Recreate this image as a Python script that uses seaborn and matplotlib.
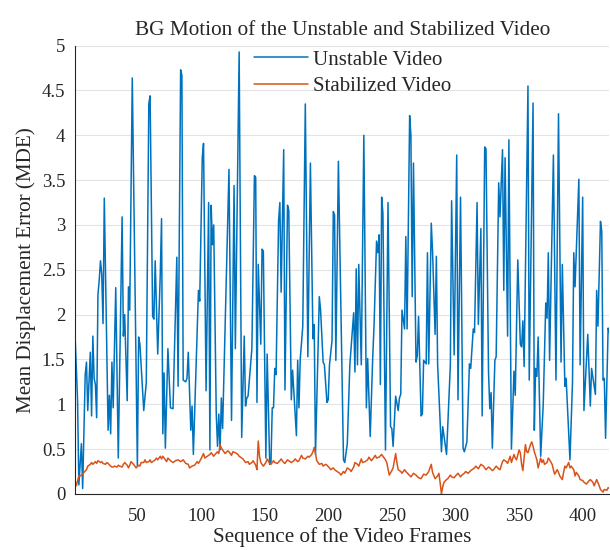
import numpy as np
import matplotlib
matplotlib.use('Agg')
import matplotlib.pyplot as plt
import seaborn as sns
from matplotlib.ticker import FormatStrFormatter

# frame indices and MDE values (peaks / troughs of the zig-zag)
unstable_frames = [1, 3, 4, 6, 7, 9, 10, 11, 13, 14,
                   15, 16, 17, 18, 19, 20, 21, 22, 23, 24,
                   27, 28, 29, 30, 31, 33, 35, 38, 39, 40,
                   42, 43, 44, 46, 50, 51, 52, 55, 57, 59,
                   60, 62, 63, 64, 66, 68, 69, 70, 71, 72,
                   74, 76, 78, 81, 82, 84, 85, 86, 88, 89,
                   90, 92, 93, 94, 98, 99, 101, 102, 104, 106,
                   107, 108, 109, 110, 112, 113, 114, 115, 116, 117,
                   120, 122, 124, 126, 127, 130, 132, 134, 135, 136,
                   137, 140, 142, 143, 144, 145, 147, 148, 149, 151,
                   152, 154, 155, 156, 157, 158, 159, 161, 162, 163,
                   165, 166, 168, 169, 171, 172, 175, 176, 177, 178,
                   180, 182, 184, 186, 188, 189, 190, 193, 194, 196,
                   197, 199, 200, 201, 203, 204, 205, 206, 208, 212,
                   213, 215, 217, 220, 221, 222, 223, 224, 226, 228,
                   230, 231, 233, 235, 236, 238, 239, 240, 241, 242,
                   243, 245, 247, 249, 250, 251, 253, 255, 256, 257,
                   258, 260, 261, 262, 264, 265, 266, 267, 269, 270,
                   271, 272, 273, 274, 275, 277, 278, 279, 281, 282,
                   284, 285, 286, 289, 290, 293, 296, 297, 299, 301,
                   302, 304, 306, 307, 309, 311, 312, 314, 315, 317,
                   318, 320, 321, 323, 324, 326, 327, 328, 329, 331,
                   332, 334, 335, 337, 338, 339, 341, 342, 344, 346,
                   347, 349, 351, 352, 353, 354, 357, 358, 361, 362,
                   363, 364, 365, 367, 369, 371, 372, 373, 374, 377,
                   379, 381, 383, 384, 386, 387, 390, 392, 393, 394,
                   397, 398, 400, 401, 404, 406, 407, 410, 411, 412,
                   414, 415, 416, 417, 418, 420, 421]
unstable_mde = [1.78, 1.04, 0.10, 0.56, 0.06, 1.33, 1.47, 0.93, 1.58, 0.87,
                1.76, 1.29, 1.22, 0.85, 2.22, 2.38, 2.60, 2.45, 1.90, 3.30,
                0.71, 1.10, 0.67, 1.47, 0.96, 2.30, 0.40, 3.09, 1.76, 2.00,
                1.04, 2.31, 2.05, 4.64, 0.31, 1.75, 1.67, 0.93, 1.24, 4.35,
                4.44, 1.98, 1.95, 2.60, 1.56, 2.45, 3.07, 0.67, 1.35, 0.51,
                1.62, 0.96, 0.95, 2.64, 1.20, 4.73, 4.67, 1.27, 1.25, 1.29,
                1.58, 0.71, 0.98, 0.44, 2.27, 2.15, 3.75, 3.91, 1.15, 3.25,
                0.49, 3.22, 2.78, 3.00, 0.89, 0.53, 0.89, 0.49, 1.07, 0.73,
                2.45, 3.62, 0.82, 3.44, 1.62, 4.93, 0.63, 1.76, 0.98, 1.07,
                1.09, 1.62, 3.55, 3.53, 1.02, 2.56, 1.67, 2.73, 2.71, 0.40,
                1.56, 0.33, 0.35, 0.96, 0.96, 1.40, 1.33, 3.05, 3.25, 2.25,
                3.84, 1.16, 3.22, 3.16, 1.05, 1.38, 0.65, 1.49, 0.96, 1.50,
                1.87, 4.35, 1.53, 3.69, 1.73, 1.89, 0.44, 2.20, 2.05, 1.47,
                1.44, 1.02, 1.05, 1.44, 1.71, 3.15, 3.11, 1.49, 3.71, 0.38,
                0.35, 0.56, 1.44, 2.02, 1.36, 2.51, 1.44, 2.56, 1.44, 4.00,
                0.96, 1.51, 0.64, 1.53, 1.87, 2.82, 2.69, 2.89, 1.22, 3.31,
                3.13, 0.49, 3.25, 0.75, 0.73, 0.53, 1.09, 0.93, 1.07, 1.11,
                2.05, 1.84, 2.87, 1.84, 4.22, 4.00, 2.20, 3.69, 1.47, 1.54,
                1.98, 1.40, 0.87, 0.89, 1.49, 1.45, 2.69, 1.45, 3.02, 2.71,
                1.78, 2.65, 1.44, 0.47, 0.75, 0.44, 1.44, 3.27, 1.55, 3.78,
                1.05, 3.31, 0.51, 0.47, 0.58, 1.45, 1.40, 1.84, 1.80, 3.25,
                1.89, 2.96, 0.87, 3.87, 3.85, 1.36, 0.95, 1.13, 0.51, 1.49,
                1.53, 3.47, 3.09, 3.84, 2.27, 3.75, 1.76, 3.95, 0.50, 1.37,
                1.10, 2.61, 1.67, 1.64, 1.93, 1.42, 4.55, 1.27, 4.36, 0.71,
                1.40, 1.31, 1.75, 0.42, 1.00, 2.13, 1.96, 2.69, 1.49, 3.78,
                1.27, 4.24, 1.47, 2.56, 1.20, 1.29, 0.38, 1.25, 2.69, 2.31,
                3.51, 1.44, 3.31, 0.93, 1.78, 0.98, 1.40, 1.11, 2.27, 1.87,
                3.04, 2.93, 1.27, 1.29, 0.62, 1.85, 1.80]

stabilized_frames = [1, 2, 4, 5, 7, 8, 10, 11, 13, 14,
                     15, 17, 18, 19, 21, 22, 23, 25, 26, 27,
                     29, 30, 31, 32, 34, 35, 36, 38, 39, 40,
                     42, 43, 44, 45, 47, 48, 49, 51, 52, 53,
                     55, 56, 57, 59, 60, 61, 62, 64, 65, 66,
                     68, 69, 70, 72, 73, 74, 76, 78, 80, 82,
                     84, 86, 88, 90, 91, 93, 95, 97, 98, 100,
                     102, 103, 105, 107, 108, 110, 111, 113, 114, 115,
                     116, 118, 119, 121, 122, 124, 125, 127, 129, 130,
                     132, 133, 135, 137, 138, 140, 141, 143, 144, 145,
                     146, 147, 149, 151, 152, 154, 155, 157, 158, 160,
                     162, 163, 165, 166, 168, 170, 171, 173, 174, 176,
                     177, 179, 180, 182, 184, 185, 187, 188, 189, 190,
                     191, 193, 195, 196, 198, 199, 201, 202, 204, 205,
                     207, 209, 210, 212, 213, 215, 217, 218, 220, 221,
                     223, 224, 226, 227, 229, 231, 232, 234, 235, 237,
                     238, 240, 242, 243, 245, 246, 247, 248, 250, 251,
                     253, 254, 255, 257, 258, 260, 261, 263, 265, 267,
                     269, 271, 273, 275, 277, 279, 281, 282, 284, 286,
                     287, 288, 289, 290, 291, 293, 294, 296, 297, 299,
                     300, 302, 304, 305, 307, 308, 310, 312, 313, 315,
                     316, 318, 320, 322, 324, 326, 327, 329, 330, 332,
                     334, 335, 337, 338, 340, 341, 343, 344, 346, 347,
                     348, 350, 351, 352, 353, 355, 356, 357, 359, 360,
                     361, 362, 364, 365, 367, 368, 369, 370, 372, 373,
                     374, 376, 377, 378, 380, 381, 382, 384, 385, 386,
                     387, 389, 390, 391, 393, 394, 395, 397, 398, 400,
                     401, 403, 404, 406, 408, 409, 411, 413, 414, 416,
                     417, 419, 420, 421]
stabilized_mde = [0.15, 0.09, 0.20, 0.20, 0.22, 0.24, 0.27, 0.31, 0.33, 0.35,
                  0.33, 0.36, 0.34, 0.37, 0.35, 0.36, 0.34, 0.33, 0.35, 0.34,
                  0.31, 0.30, 0.30, 0.31, 0.30, 0.32, 0.31, 0.30, 0.33, 0.35,
                  0.32, 0.29, 0.32, 0.36, 0.33, 0.31, 0.29, 0.32, 0.31, 0.35,
                  0.35, 0.38, 0.35, 0.36, 0.38, 0.35, 0.36, 0.38, 0.40, 0.38,
                  0.42, 0.39, 0.42, 0.38, 0.36, 0.40, 0.37, 0.35, 0.37, 0.38,
                  0.36, 0.38, 0.34, 0.33, 0.29, 0.31, 0.32, 0.36, 0.34, 0.39,
                  0.45, 0.40, 0.42, 0.44, 0.46, 0.42, 0.44, 0.47, 0.45, 0.55,
                  0.51, 0.47, 0.45, 0.48, 0.47, 0.43, 0.47, 0.46, 0.44, 0.42,
                  0.40, 0.39, 0.35, 0.36, 0.33, 0.35, 0.37, 0.32, 0.27, 0.59,
                  0.42, 0.35, 0.31, 0.35, 0.39, 0.34, 0.33, 0.37, 0.35, 0.34,
                  0.37, 0.39, 0.35, 0.34, 0.38, 0.36, 0.35, 0.37, 0.39, 0.36,
                  0.37, 0.43, 0.40, 0.39, 0.42, 0.41, 0.44, 0.47, 0.52, 0.45,
                  0.37, 0.33, 0.34, 0.31, 0.33, 0.32, 0.29, 0.27, 0.29, 0.27,
                  0.25, 0.23, 0.21, 0.25, 0.23, 0.29, 0.27, 0.25, 0.30, 0.35,
                  0.33, 0.31, 0.39, 0.35, 0.36, 0.38, 0.41, 0.37, 0.39, 0.43,
                  0.40, 0.41, 0.44, 0.42, 0.38, 0.35, 0.28, 0.21, 0.26, 0.29,
                  0.45, 0.35, 0.27, 0.25, 0.23, 0.27, 0.25, 0.22, 0.19, 0.23,
                  0.21, 0.18, 0.17, 0.22, 0.21, 0.25, 0.33, 0.24, 0.17, 0.20,
                  0.23, 0.12, 0.00, 0.08, 0.13, 0.16, 0.17, 0.21, 0.19, 0.18,
                  0.20, 0.23, 0.19, 0.21, 0.23, 0.25, 0.23, 0.26, 0.27, 0.29,
                  0.31, 0.28, 0.33, 0.31, 0.27, 0.30, 0.29, 0.26, 0.27, 0.31,
                  0.28, 0.27, 0.36, 0.38, 0.36, 0.34, 0.42, 0.35, 0.44, 0.40,
                  0.38, 0.49, 0.46, 0.33, 0.26, 0.55, 0.47, 0.46, 0.55, 0.58,
                  0.53, 0.47, 0.38, 0.29, 0.40, 0.35, 0.38, 0.33, 0.35, 0.40,
                  0.38, 0.33, 0.27, 0.22, 0.27, 0.24, 0.20, 0.16, 0.24, 0.31,
                  0.29, 0.35, 0.29, 0.31, 0.27, 0.20, 0.24, 0.20, 0.16, 0.15,
                  0.13, 0.11, 0.13, 0.16, 0.13, 0.09, 0.16, 0.09, 0.05, 0.02,
                  0.05, 0.04, 0.07, 0.06]

sns.set_style('white')
plt.rcParams['font.family'] = ['Liberation Serif', 'DejaVu Serif']

fig = plt.figure(figsize=(6.1, 5.5), dpi=100)
ax = fig.add_axes([0.123, 0.102, 0.876, 0.815])

sns.lineplot(x=unstable_frames, y=unstable_mde, color='#0072BD', linewidth=1.1,
             label='Unstable Video', ax=ax)
sns.lineplot(x=stabilized_frames, y=stabilized_mde, color='#D95319', linewidth=1.1,
             label='Stabilized Video', ax=ax)

ax.set_xlim(1, 421)
ax.set_ylim(0, 5)
ax.set_xticks(np.arange(50, 401, 50))
ax.set_yticks(np.arange(0, 5.01, 0.5))
ax.yaxis.set_major_formatter(FormatStrFormatter('%g'))
ax.grid(axis='y', color='#e3e3e3', linewidth=0.8)
ax.set_axisbelow(True)
for s in ['top', 'right']:
    ax.spines[s].set_visible(False)
for s in ['left', 'bottom']:
    ax.spines[s].set_color('#262626')
    ax.spines[s].set_linewidth(0.8)
ax.tick_params(direction='in', length=5, width=0.8, colors='#262626',
               labelsize=13.5)
ax.tick_params(axis='x', pad=10)
ax.tick_params(axis='y', pad=7)

ax.set_title('BG Motion of the Unstable and Stabilized Video', fontsize=15.3,
             color='#262626', pad=8)
ax.set_xlabel('Sequence of the Video Frames', fontsize=15.2, color='#262626',
              labelpad=2)
ax.set_ylabel('Mean Displacement Error (MDE)', fontsize=15.2, color='#262626')

ax.legend(loc='upper left', bbox_to_anchor=(0.335, 0.99), frameon=False,
          fontsize=15, handlelength=2.6, handletextpad=0.25, labelspacing=0.32,
          borderaxespad=0, borderpad=0)

fig.savefig('out.png', dpi=100)
